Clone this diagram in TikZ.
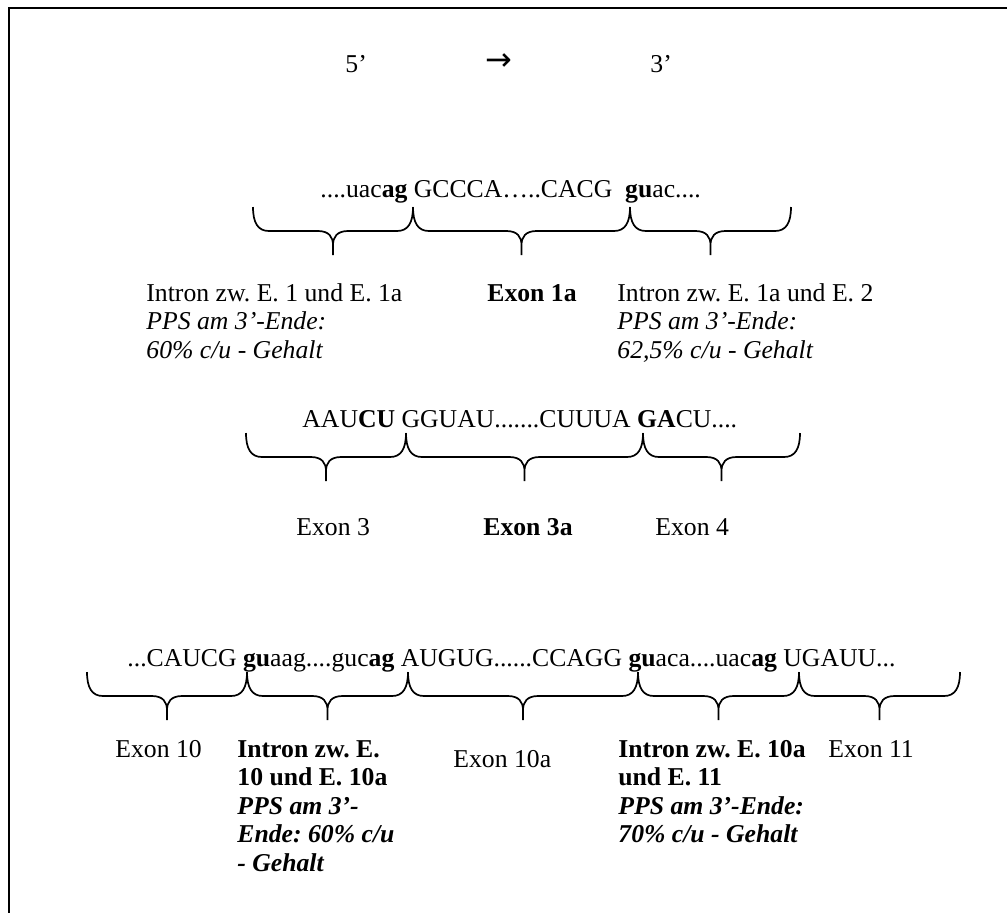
\documentclass[tikz,border=0pt]{standalone}
\usepackage{fontspec}
\setmainfont{Liberation Serif}
\newfontfamily\arrowfont{DejaVu Sans}

% Downward curly brace spanning x1..x2, hanging from height ytop
\newcommand\gbrace[3]{%
  \pgfmathsetmacro\gbm{(#1+#2)/2}%
  \pgfmathsetmacro\gbb{#3+24}%
  \pgfmathsetmacro\gbt{#3+48}%
  \draw[bracepath] (#1,#3) .. controls (#1,#3+16) and (#1+5,\gbb) .. (#1+16,\gbb)
    -- (\gbm-15,\gbb) .. controls (\gbm-4,\gbb) and (\gbm,\gbb+6) .. (\gbm,\gbb+14) -- (\gbm,\gbt)
    (\gbm,\gbb+14) .. controls (\gbm,\gbb+6) and (\gbm+4,\gbb) .. (\gbm+15,\gbb)
    -- (#2-16,\gbb) .. controls (#2-5,\gbb) and (#2,#3+16) .. (#2,#3);}

\begin{document}
\frenchspacing
\begin{tikzpicture}[x=0.5pt,y=-0.5pt,
  txt/.style={inner sep=0pt, anchor=base west, font=\fontsize{12.85}{14.25}\selectfont\frenchspacing},
  bracepath/.style={line width=0.85pt, line join=round},
  frame/.style={line width=0.9pt}]
\useasboundingbox (0,0) rectangle (1007,912);
\clip (0,0) rectangle (1007,912);
\draw[frame] (9,940) -- (9,8) -- (1030,8);

% direction header
\node[txt] (five) at (345,72) {5’};
\node[inner sep=0pt, font=\arrowfont\fontsize{16}{18}\selectfont] (dir) at (499,62) {→};
\node[txt] (three) at (650,72) {3’};

% ---- exon 1a ----
\node[txt] (seqA) at (320,197) {....uac\textbf{ag} GCCCA…..CACG\ \ \textbf{gu}ac....};
\gbrace{253}{413}{207}
\gbrace{413}{630}{207}
\gbrace{630}{791}{207}
\node[txt] (intA1) at (146,301) {\begin{tabular}[t]{@{}l@{}}Intron zw. E. 1 und E. 1a\\ \itshape PPS am 3’-Ende:\\ \itshape 60\% c/u - Gehalt\end{tabular}};
\node[txt] (exA) at (487,301) {\textbf{Exon 1a}};
\node[txt] (intA2) at (617,301) {\begin{tabular}[t]{@{}l@{}}Intron zw. E. 1a und E. 2\\ \itshape PPS am 3’-Ende:\\ \itshape 62,5\% c/u - Gehalt\end{tabular}};

% ---- exon 3a ----
\node[txt] (seqB) at (302,427) {AAU\textbf{CU} GGUAU.......CUUUA \textbf{GA}CU....};
\gbrace{246}{406}{433}
\gbrace{406}{643}{433}
\gbrace{643}{800}{433}
\node[txt] (exB1) at (296,535) {Exon 3};
\node[txt] (exB2) at (483,535) {\textbf{Exon 3a}};
\node[txt] (exB3) at (655,535) {Exon 4};

% ---- exon 10a ----
\node[txt] (seqC) at (127,666) {...CAUCG \textbf{gu}aag....guc\textbf{ag} AUGUG......CCAGG \textbf{gu}aca....uac\textbf{ag} UGAUU...};
\gbrace{87}{247}{672}
\gbrace{247}{408}{672}
\gbrace{408}{638}{672}
\gbrace{638}{799}{672}
\gbrace{799}{960}{672}
\node[txt] (exC1) at (115,757) {Exon 10};
\node[txt] (intC1) at (237,757) {\bfseries\begin{tabular}[t]{@{}l@{}}Intron zw. E.\\ 10 und E. 10a\\ \itshape PPS am 3’-\\ \itshape Ende: 60\% c/u\\ \itshape - Gehalt\end{tabular}};
\node[txt] (exC2) at (453,767) {Exon 10a};
\node[txt] (intC2) at (618,757) {\bfseries\begin{tabular}[t]{@{}l@{}}Intron zw. E. 10a\\ und E. 11\\ \itshape PPS am 3’-Ende:\\ \itshape 70\% c/u - Gehalt\end{tabular}};
\node[txt] (exC3) at (828,757) {Exon 11};
\end{tikzpicture}
\end{document}
